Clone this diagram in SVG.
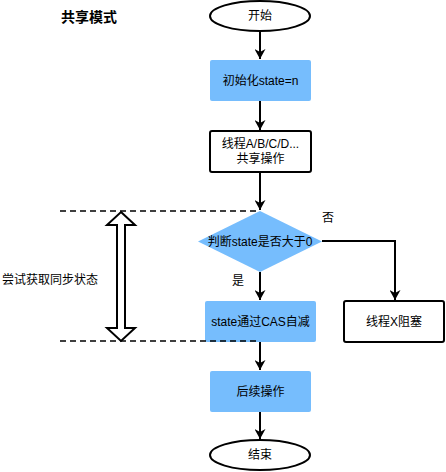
<svg xmlns="http://www.w3.org/2000/svg" width="446" height="472" viewBox="0 0 446 472">
<style>
text{font-family:"Liberation Sans","Noto Sans CJK SC",sans-serif;font-size:12px;fill:#000;text-anchor:middle;dominant-baseline:central}
.blue{fill:#76BDFD;stroke:none}
.white{fill:#fff;stroke:#000;stroke-width:2}
.line{fill:none;stroke:#000;stroke-width:2}
.dash{fill:none;stroke:#000;stroke-width:1.5;stroke-dasharray:6 4}
</style>
<defs>
<marker id="ah" markerWidth="10" markerHeight="11" refX="10" refY="5.5" orient="auto" markerUnits="userSpaceOnUse" viewBox="0 0 10 11">
<path d="M0,0 L10,5.5 L0,11 L3,5.5 Z" fill="#000"/>
</marker>
</defs>
<rect width="446" height="472" fill="#fff"/>
<text x="89" y="17" style="font-size:14px;font-weight:bold">共享模式</text>
<g id="connectors">
<path class="line" d="M260,31 V59" marker-end="url(#ah)"/>
<path class="line" d="M260,101 V130" marker-end="url(#ah)"/>
<path class="line" d="M260,172 V210" marker-end="url(#ah)"/>
<path class="line" d="M260,272 V300" marker-end="url(#ah)"/>
<path class="line" d="M322,241 H395 V300" marker-end="url(#ah)"/>
<path class="line" d="M260,342 V370" marker-end="url(#ah)"/>
<path class="line" d="M260,412 V439" marker-end="url(#ah)"/>
<text x="328" y="218">否</text>
<text x="238" y="281">是</text>
</g>
<g id="dashes">
<path class="dash" d="M60,211 H260"/>
</g>
<g id="start"><ellipse class="white" cx="260" cy="16" rx="50" ry="15"/><text x="260" y="16">开始</text></g>
<g id="init"><rect class="blue" x="210" y="60" width="101" height="41" rx="2"/><text x="260.5" y="81">初始化state=n</text></g>
<g id="share"><rect class="white" x="210" y="131" width="101" height="41" rx="2"/><text x="260.5" y="144">线程A/B/C/D...</text><text x="260.5" y="159">共享操作</text></g>
<g id="decide"><path class="blue" d="M260,211 L322,241.5 L260,272 L198,241.5 Z"/><text x="260" y="241.5">判断state是否大于0</text></g>
<g id="cas"><rect class="blue" x="205" y="301" width="111" height="41" rx="2"/><text x="260.5" y="322">state通过CAS自减</text></g>
<g id="block"><rect class="white" x="344" y="301" width="100" height="41" rx="2"/><text x="394" y="322">线程X阻塞</text></g>
<g id="after"><rect class="blue" x="210" y="371" width="101" height="41" rx="2"/><text x="260.5" y="392">后续操作</text></g>
<g id="end"><ellipse class="white" cx="260" cy="455" rx="50" ry="15"/><text x="260" y="455">结束</text></g>
<g id="bottomdash"><path class="dash" d="M60,341 H260"/></g>
<g id="range">
<path d="M121,212 L135,225 L125,225 L125,328 L135,328 L121,341 L107,328 L117,328 L117,225 L107,225 Z" fill="#fff" stroke="#000" stroke-width="2" stroke-linejoin="miter"/>
<text x="50" y="280">尝试获取同步状态</text>
</g>
</svg>
